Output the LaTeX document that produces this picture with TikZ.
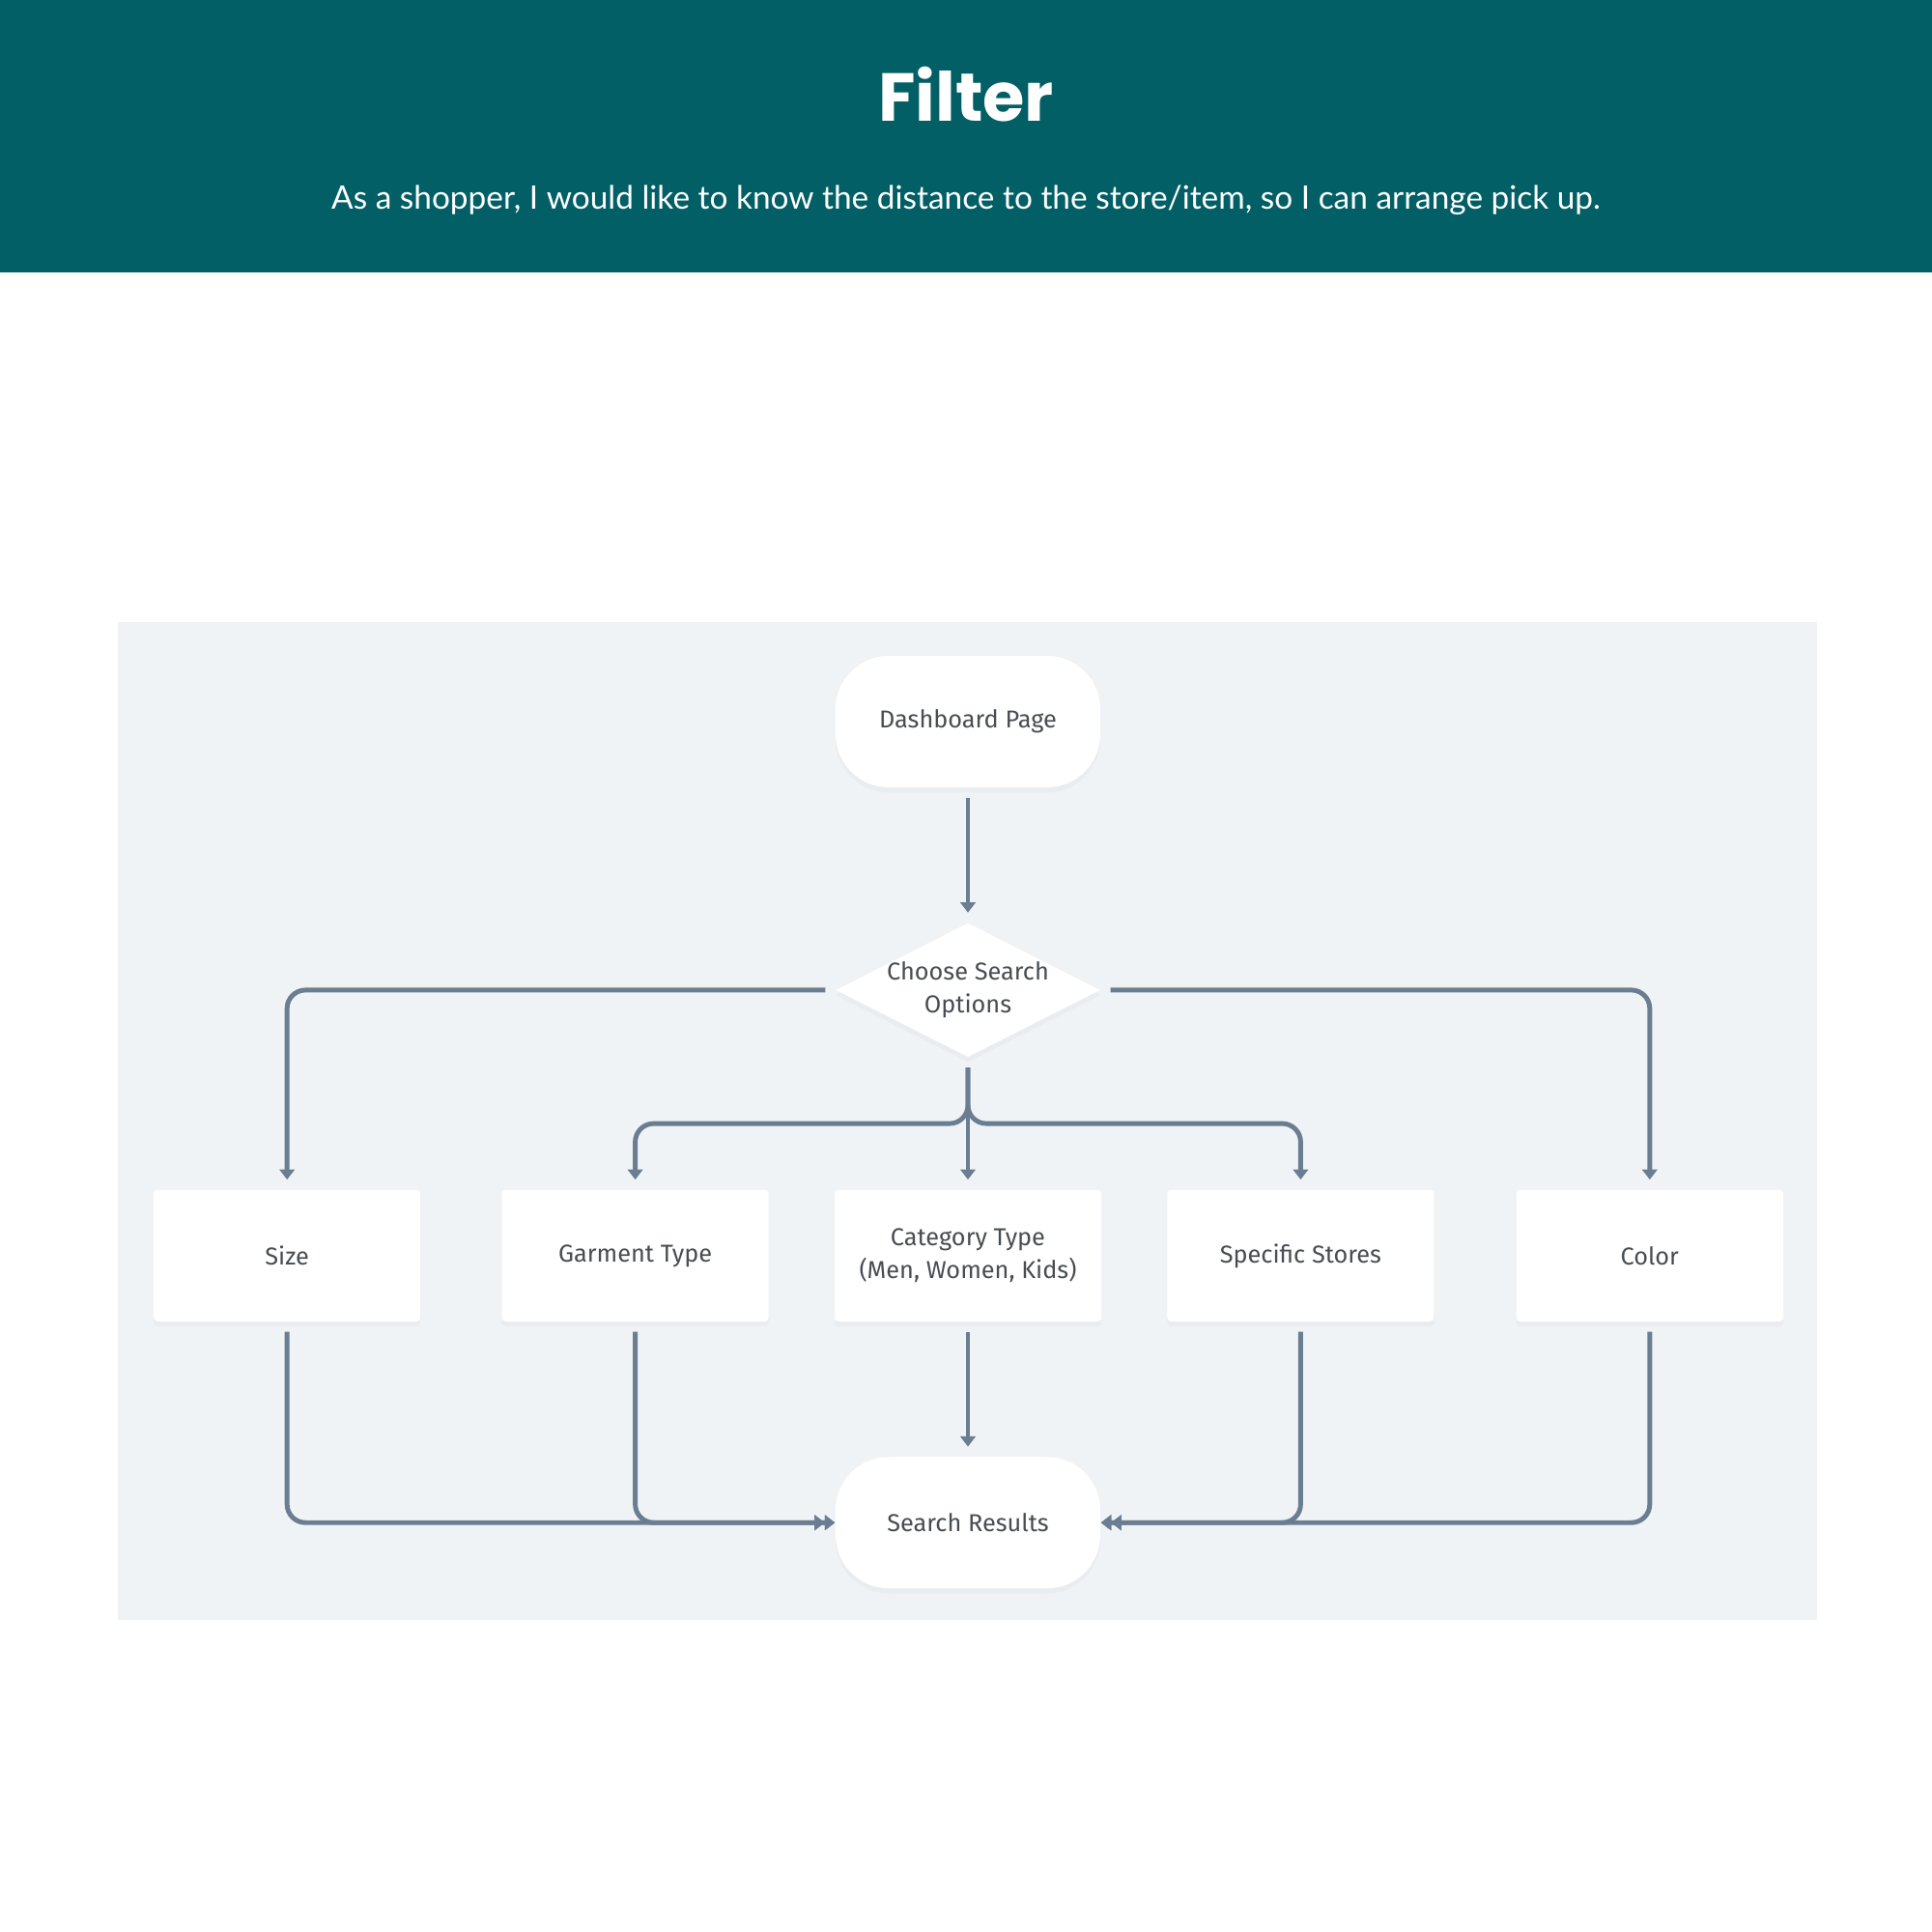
\documentclass[tikz,border=0pt]{standalone}
\usepackage{fontspec}
\setmainfont{Lato}
\newfontfamily\headfont{Poppins}
\newfontfamily\boxfont{Fira Sans}
\usepackage{tikz}
\usetikzlibrary{shapes.geometric, arrows.meta, positioning, calc, shadows}
\definecolor{headteal}{HTML}{025F65}
\definecolor{canvas}{HTML}{EFF3F6}
\definecolor{linkgray}{HTML}{6A7D91}
\definecolor{labelgray}{HTML}{484D53}
\tikzstyle{terminal} = [rectangle, rounded corners=0.55cm, minimum width=2.74cm, minimum height=1.36cm, text centered, align=center, fill=white, text=labelgray, font=\boxfont\fontsize{7.2}{9.8}\selectfont, drop shadow={opacity=0.05, shadow xshift=0pt, shadow yshift=-1.5pt}]
\tikzstyle{decision} = [diamond, minimum width=2.74cm, minimum height=1.39cm, inner sep=0pt, fill=white, drop shadow={opacity=0.05, shadow xshift=0pt, shadow yshift=-1.5pt}]
\tikzstyle{option} = [rectangle, rounded corners=1pt, minimum width=2.76cm, minimum height=1.36cm, text centered, align=center, fill=white, text=labelgray, font=\boxfont\fontsize{7.2}{9.8}\selectfont, drop shadow={opacity=0.05, shadow xshift=0pt, shadow yshift=-1.5pt}]
\tikzstyle{arrow} = [line width=1.4pt, draw=linkgray, rounded corners=0.19cm, shorten <=0.1cm, shorten >=0.1cm, -{Triangle[width=4.4pt,length=3pt]}]
\tikzstyle{merge} = [line width=1.4pt, draw=linkgray, rounded corners=0.19cm, shorten <=0.1cm, -{Triangle[width=4.4pt,length=3pt]Triangle[width=4.4pt,length=3pt]}]

\begin{document}
\begin{tikzpicture}
    \useasboundingbox (0,0) rectangle (20,-20);

    % Header band
    \fill [headteal] (0,0) rectangle (20,-2.82);
    \node (title) at (10,-0.98) [text=white, font=\headfont\bfseries\fontsize{20}{24}\selectfont] {Filter};
    \node (story) at (10,-2.07) [text=white, font=\fontsize{9.5}{11}\selectfont] {As a shopper, I would like to know the distance to the store/item, so I can arrange pick up.};

    % Canvas
    \fill [canvas] (1.22,-6.44) rectangle (18.81,-16.77);

    % Flow nodes
    \node (dash) [terminal] at (10.02,-7.47) {Dashboard Page};
    \node (choose) [decision, below=1.39cm of dash] {};
    \node at (choose) [align=center, text=labelgray, font=\boxfont\fontsize{7.2}{9.8}\selectfont] {Choose Search\\Options};

    % Search options
    \node (cat) [option, below=1.36cm of choose] {Category Type\\(Men, Women, Kids)};
    \node (garment) [option, left=0.67cm of cat] {Garment Type};
    \node (size) [option, left=0.83cm of garment] {Size};
    \node (stores) [option, right=0.67cm of cat] {Specific Stores};
    \node (color) [option, right=0.84cm of stores] {Color};

    % Result
    \node (results) [terminal, below=1.39cm of cat] {Search Results};

    % Connectors
    \coordinate (split) at ($(choose.south)!0.5!(cat.north)$);
    \draw [arrow] (dash) -- (choose);
    \draw [arrow] (choose.west) -| (size.north);
    \draw [arrow] (choose.east) -| (color.north);
    \draw [arrow] (choose.south) -- (split) -| (garment.north);
    \draw [arrow] (choose.south) -- (split) -| (stores.north);
    \draw [arrow] (choose) -- (cat);
    \draw [arrow] (cat) -- (results);
    \draw [merge] (size.south) |- (results.west);
    \draw [merge] (garment.south) |- (results.west);
    \draw [merge] (stores.south) |- (results.east);
    \draw [merge] (color.south) |- (results.east);
\end{tikzpicture}
\end{document}
